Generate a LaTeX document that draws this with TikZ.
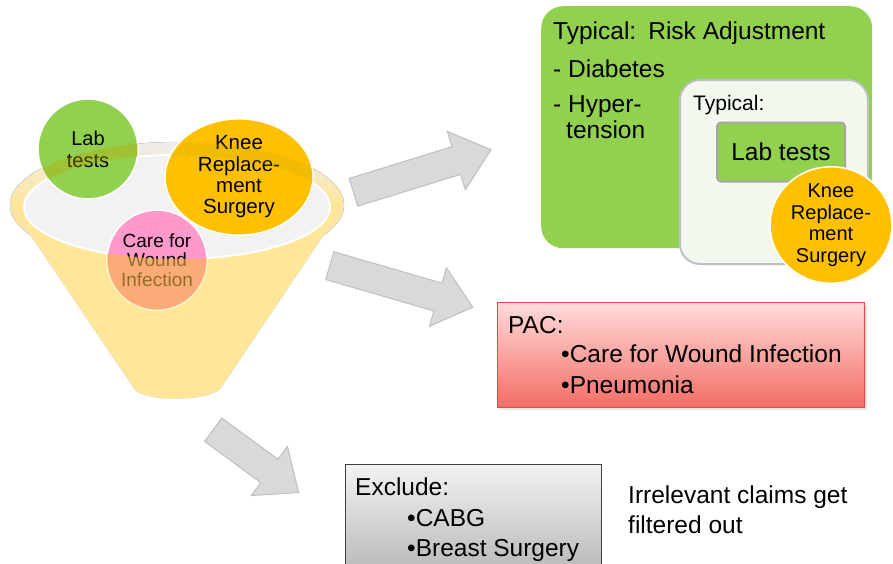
\documentclass[tikz,border=0pt]{standalone}
\usepackage{fontspec}
\setmainfont{Liberation Sans}
\usetikzlibrary{positioning, shapes.geometric, shapes.arrows, shadows}

\definecolor{labgreen}{HTML}{92D050}
\definecolor{labedge}{HTML}{A6A6A6}
\definecolor{kneeorange}{HTML}{FFC000}
\definecolor{carepink}{HTML}{FF99CC}
\definecolor{careshade}{HTML}{F7B740}
\definecolor{bandshade}{HTML}{B8A800}
\definecolor{funnelyellow}{HTML}{FFE699}
\definecolor{rimgray}{HTML}{EDEDED}
\definecolor{innergray}{HTML}{F2F2F2}
\definecolor{typfill}{HTML}{F3F8EE}
\definecolor{typedge}{HTML}{BFBFBF}
\definecolor{pactop}{HTML}{FFDCDC}
\definecolor{pacbot}{HTML}{F26D64}
\definecolor{pacedge}{HTML}{E8483C}
\definecolor{excltop}{HTML}{F2F2F2}
\definecolor{exclbot}{HTML}{B5B5B5}
\definecolor{arrowgray}{HTML}{D9D9D9}
\definecolor{arrowedge}{HTML}{BFBFBF}

\tikzset{
  bubble/.style={circle, draw=white, line width=1.5pt, inner sep=0pt, align=center},
  bigtext/.style={font=\fontsize{24.5}{30}\selectfont, inner sep=0pt},
  blockarrow/.style={single arrow, draw=arrowedge, fill=arrowgray, line width=1pt,
    inner xsep=0pt, inner ysep=14pt, single arrow head extend=16pt, single arrow tip angle=80},
  pacbox/.style={draw=pacedge, line width=1.2pt, top color=pactop, bottom color=pacbot,
    drop shadow={opacity=0.2, shadow xshift=2pt, shadow yshift=-2pt}},
  exclbox/.style={draw=black!75, line width=1.2pt, top color=excltop, bottom color=exclbot},
}

\begin{document}
\begin{tikzpicture}[x=1pt, y=-1pt]
\useasboundingbox (0,0) rectangle (893,563);

% funnel
\filldraw[draw=black!15, top color=rimgray, bottom color=funnelyellow, middle color=funnelyellow]
  (177,205) ellipse (167 and 63);
\filldraw[fill=funnelyellow, draw=black!12] (10,205) -- (135,390)
  .. controls (146,402) and (209,402) .. (221,388) -- (344,205);
\filldraw[fill=innergray, draw=white, line width=2pt] (177,207) ellipse (153 and 52);

\node[bubble, fill=labgreen, minimum size=100pt, font=\fontsize{20}{22}\selectfont] (Lab) at (88,149) {Lab\\tests};
\node[bubble, ellipse, fill=kneeorange, minimum width=148pt, minimum height=100pt,
  font=\fontsize{20.5}{21.3}\selectfont] (Knee) at (239,177) {Knee\\Replace-\\ment\\Surgery};
\node[bubble, fill=carepink, minimum size=100pt, font=\fontsize{19}{19.5}\selectfont] (Care) at (157,260) {Care for\\Wound\\Infection};

% rim over the circles
\begin{scope}[even odd rule]
  \clip (177,205) ellipse (167 and 63) (177,207) ellipse (153 and 52);
  \clip (0,0) rectangle (893,207);
  \fill[bandshade, opacity=0.35] (Lab.center) circle (50pt);
  \fill[bandshade, opacity=0.2] (Knee.center) ellipse (74pt and 50pt);
\end{scope}
% front of the funnel over the lower circle
\begin{scope}
  \clip (Care.center) circle (50pt);
  \begin{scope}[even odd rule]
    \clip (0,0) rectangle (893,563) (177,207) ellipse (153 and 52);
    \fill[careshade, opacity=0.6] (Care.center) circle (51pt);
  \end{scope}
\end{scope}

% arrows
\node[blockarrow, minimum height=144pt, rotate=17.2] (A1) at (414,173.6) {};
\node[blockarrow, minimum height=149pt, rotate=-16.2] (A2) at (393,284) {};
\node[blockarrow, minimum height=106pt, rotate=-36.3] (A3) at (249,456) {};

% risk adjustment
\node[fill=labgreen, rounded corners=22pt, minimum width=331pt, minimum height=242pt, anchor=north west] (RA) at (541,6) {};
\node[bigtext, anchor=base west] (RAtitle) at (553,39) {Typical:\hspace{3pt} Risk Adjustment};
\node[bigtext, anchor=base west] (Diab) at (553,77) {- Diabetes};
\node[bigtext, anchor=base west] (Hyper) at (553,112) {- Hyper-};
\node[bigtext, anchor=base west] (Tension) at (566,138) {tension};

\node[fill=typfill, draw=typedge, line width=2pt, rounded corners=20pt, minimum width=188pt,
  minimum height=184pt, anchor=north west] (Typ) at (679,79) {};
\node[font=\fontsize{21}{24}\selectfont, inner sep=0pt, anchor=base west] (TypLabel) at (693,110) {Typical:};
\node[bigtext, fill=labgreen, draw=labedge, line width=2pt, rounded corners=4pt,
  minimum width=128pt, minimum height=59pt] (LabT) at (781,152) {Lab tests};
\node[bubble, ellipse, fill=kneeorange, minimum width=122pt, minimum height=104pt,
  font=\fontsize{20}{21.5}\selectfont] (KneeT) at (831,225) {Knee\\Replace-\\ment\\Surgery};

% PAC
\node[pacbox, minimum width=367pt, minimum height=105pt, anchor=north west] (PAC) at (497,302) {};
\node[bigtext, anchor=base west] (PACtitle) at (508,333) {PAC:};
\node[bigtext, anchor=base west] (Wound) at (561,362) {•Care for Wound Infection};
\node[bigtext, anchor=base west] (Pneu) at (561,393) {•Pneumonia};

% exclude
\node[exclbox, minimum width=256pt, minimum height=115pt, anchor=north west] (Excl) at (345,464) {};
\node[bigtext, anchor=base west] (Excltitle) at (355,495) {Exclude:};
\node[bigtext, anchor=base west] (CABG) at (407,526) {•CABG};
\node[bigtext, anchor=base west] (Breast) at (407,556) {•Breast Surgery};

\node[bigtext, anchor=base west] (Note) at (628,503) {Irrelevant claims get};
\node[bigtext, anchor=base west] (Note2) at (628,533) {filtered out};
\end{tikzpicture}
\end{document}
